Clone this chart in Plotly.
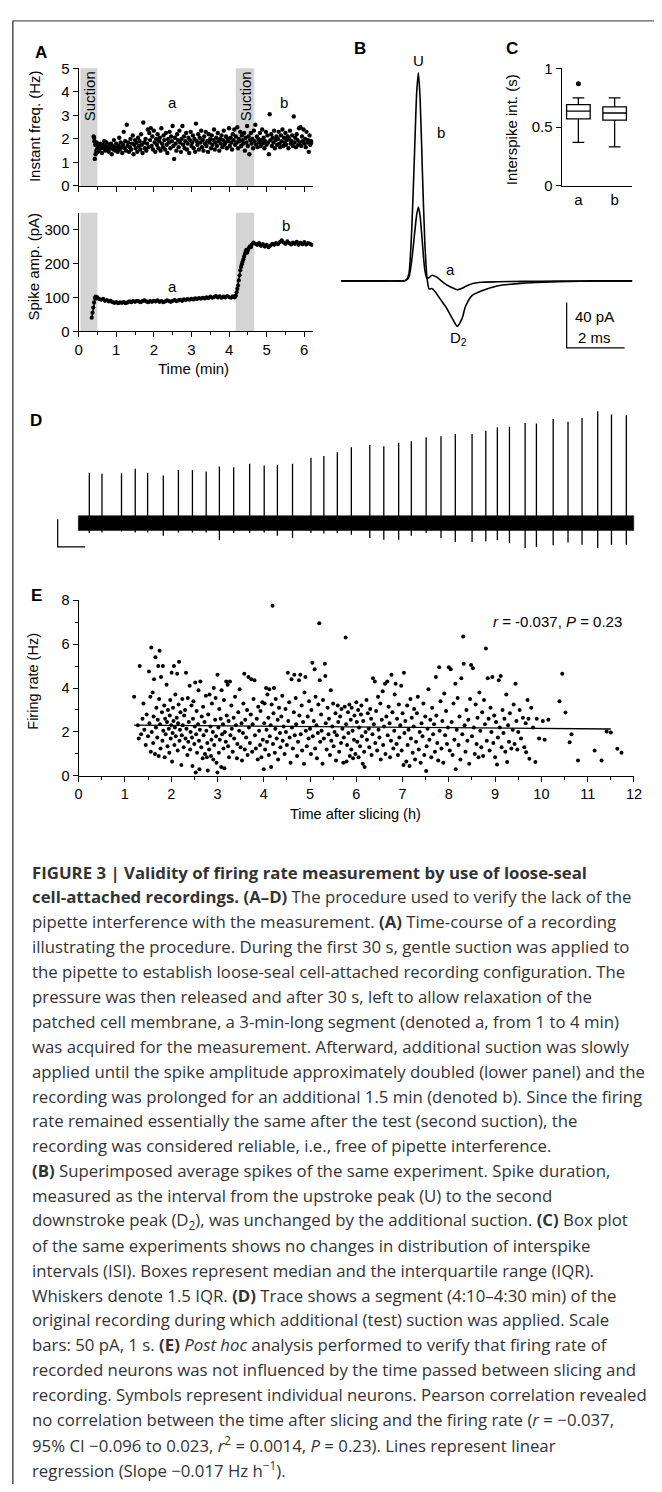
import plotly.graph_objects as go

# ---------------- Panel A (top): instantaneous frequency (min, Hz) ----------------
freq_points = [
(0.40,2.10),(0.41,2.05),(0.42,1.90),(0.43,1.15),(0.44,1.75),(0.45,1.35),(0.47,1.50),(0.48,1.85),(0.50,1.60),(0.52,1.45),
(0.54,1.70),(0.56,1.55),(0.58,1.80),(0.60,1.65),(0.62,1.40),(0.64,1.75),(0.66,1.60),(0.68,1.90),(0.70,1.50),(0.72,1.70),
(0.74,1.85),(0.76,1.55),(0.78,1.65),(0.80,1.45),(0.82,1.75),(0.84,1.60),(0.86,1.80),(0.88,1.35),(0.90,1.70),(0.92,1.55),
(0.94,1.95),(0.96,1.65),(0.98,1.50),(1.00,1.80),(1.02,1.60),(1.04,1.45),(1.06,1.70),(1.08,2.05),(1.10,1.55),(1.12,1.85),
(1.14,1.65),(1.16,1.40),(1.18,1.75),(1.20,2.30),(1.22,1.60),(1.24,1.90),(1.26,1.50),(1.28,2.60),(1.30,1.70),(1.32,1.85),
(1.34,1.45),(1.36,1.65),(1.38,2.00),(1.40,1.55),(1.42,1.80),(1.44,2.15),(1.46,1.35),(1.48,1.75),(1.50,1.95),(1.52,1.60),
(1.54,1.85),(1.56,1.45),(1.58,2.05),(1.60,1.70),(1.62,1.90),(1.64,1.55),(1.66,2.20),(1.68,1.75),(1.70,1.40),(1.72,2.70),
(1.74,1.85),(1.76,1.60),(1.78,2.00),(1.80,1.50),(1.82,1.80),(1.84,2.40),(1.86,1.65),(1.88,2.25),(1.90,1.95),(1.92,2.45),
(1.94,1.70),(1.96,2.10),(1.98,1.55),(2.00,2.35),(2.02,1.85),(2.04,1.45),(2.06,2.00),(2.08,1.75),(2.10,2.20),(2.12,1.60),
(2.14,1.90),(2.16,2.05),(2.18,1.50),(2.20,2.45),(2.22,1.80),(2.24,1.65),(2.26,2.15),(2.28,1.95),(2.30,1.55),(2.32,2.25),
(2.34,1.75),(2.36,1.40),(2.38,2.00),(2.40,1.85),(2.42,2.30),(2.44,1.60),(2.46,2.10),(2.48,1.90),(2.50,2.55),(2.52,1.70),
(2.54,1.15),(2.56,2.05),(2.58,1.80),(2.60,1.50),(2.62,2.20),(2.64,1.95),(2.66,1.65),(2.68,2.35),(2.70,1.85),(2.72,1.45),
(2.74,2.00),(2.76,2.55),(2.78,1.75),(2.80,2.10),(2.82,1.60),(2.84,1.90),(2.86,2.25),(2.88,1.55),(2.90,1.80),(2.92,2.05),
(2.94,1.40),(2.96,1.95),(2.98,2.30),(3.00,1.70),(3.02,1.85),(3.04,2.15),(3.06,1.60),(3.08,2.00),(3.10,1.45),(3.12,2.65),
(3.14,1.90),(3.16,1.75),(3.18,2.20),(3.20,1.55),(3.22,2.05),(3.24,1.85),(3.26,2.35),(3.28,1.65),(3.30,1.95),(3.32,1.50),
(3.34,2.10),(3.36,1.80),(3.38,2.30),(3.40,1.70),(3.42,1.90),(3.44,1.45),(3.46,2.20),(3.48,1.85),(3.50,2.00),(3.52,1.60),
(3.54,2.15),(3.56,1.75),(3.58,1.95),(3.60,2.40),(3.62,1.55),(3.64,1.85),(3.66,2.05),(3.68,1.70),(3.70,2.25),(3.72,1.90),
(3.74,1.50),(3.76,2.00),(3.78,1.80),(3.80,2.15),(3.82,1.65),(3.84,1.95),(3.86,2.35),(3.88,1.75),(3.90,1.85),(3.92,2.10),
(3.94,1.60),(3.96,2.00),(3.98,1.90),(4.00,2.45),(4.02,1.70),(4.04,2.05),(4.06,1.85),(4.08,1.55),(4.10,2.20),(4.12,1.95),
(4.14,2.40),(4.16,1.75),(4.18,2.10),(4.20,1.85),(4.22,2.50),(4.24,1.60),(4.26,2.00),(4.28,1.90),(4.30,2.30),(4.32,1.70),
(4.34,2.15),(4.36,1.95),(4.38,1.80),(4.40,2.25),(4.42,1.50),(4.44,2.05),(4.46,1.85),(4.48,2.55),(4.50,1.70),(4.52,2.10),
(4.54,1.35),(4.56,1.95),(4.58,2.25),(4.60,1.80),(4.62,2.00),(4.64,1.60),(4.66,2.35),(4.68,1.90),(4.70,2.60),(4.72,1.75),
(4.74,2.10),(4.76,1.65),(4.78,2.00),(4.80,1.85),(4.82,2.25),(4.84,1.70),(4.86,1.95),(4.88,2.40),(4.90,1.80),(4.92,2.05),
(4.94,1.60),(4.96,1.90),(4.98,2.30),(5.00,1.75),(5.02,2.15),(5.04,1.85),(5.06,1.35),(5.08,3.05),(5.10,1.95),(5.12,2.20),
(5.14,1.70),(5.16,2.05),(5.18,1.85),(5.20,2.35),(5.22,1.60),(5.24,1.95),(5.26,2.10),(5.28,1.75),(5.30,2.00),(5.32,2.30),
(5.34,1.80),(5.36,1.65),(5.38,2.15),(5.40,1.90),(5.42,2.40),(5.44,1.70),(5.46,2.05),(5.48,1.85),(5.50,2.25),(5.52,1.75),
(5.54,1.95),(5.56,2.10),(5.58,1.60),(5.60,2.00),(5.62,2.35),(5.64,1.80),(5.66,1.90),(5.68,2.15),(5.70,1.70),(5.72,2.95),
(5.74,1.85),(5.76,2.05),(5.78,1.65),(5.80,2.20),(5.82,1.95),(5.84,1.75),(5.86,2.45),(5.88,1.85),(5.90,2.50),(5.92,1.70),
(5.94,2.10),(5.96,1.90),(5.98,2.40),(6.00,1.80),(6.02,2.00),(6.04,1.65),(6.06,2.30),(6.08,1.85),(6.10,1.95),(6.12,1.45),
(6.14,2.15),(6.16,1.75),(6.18,1.90),(6.20,1.85),
]
freq_time_min = [p[0] for p in freq_points]
freq_hz = [p[1] for p in freq_points]
suction_periods_min = [(0.05, 0.50), (4.18, 4.67)]

# ---------------- Panel A (bottom): spike amplitude (min, pA) ----------------
amp_points = [
(0.35,40),(0.37,55),(0.39,70),(0.41,85),(0.43,98),(0.45,102),(0.48,97),(0.50,100),(0.55,95),(0.60,93),
(0.65,96),(0.70,90),(0.75,92),(0.80,88),(0.85,90),(0.90,86),(0.95,84),(1.00,86),(1.05,83),(1.10,85),
(1.15,84),(1.20,86),(1.25,83),(1.30,85),(1.35,88),(1.40,86),(1.45,89),(1.50,87),(1.55,90),(1.60,88),
(1.65,86),(1.70,89),(1.75,91),(1.80,88),(1.85,86),(1.90,89),(1.95,87),(2.00,90),(2.05,88),(2.10,91),
(2.15,87),(2.20,89),(2.25,86),(2.30,88),(2.35,91),(2.40,89),(2.45,87),(2.50,90),(2.55,92),(2.60,89),
(2.65,91),(2.70,93),(2.75,90),(2.80,94),(2.85,92),(2.90,95),(2.95,93),(3.00,96),(3.05,94),(3.10,97),
(3.15,95),(3.20,98),(3.25,96),(3.30,99),(3.35,97),(3.40,100),(3.45,98),(3.50,102),(3.55,99),(3.60,101),
(3.65,104),(3.70,100),(3.75,103),(3.80,99),(3.85,102),(3.90,100),(3.95,104),(4.00,101),(4.05,99),(4.10,103),
(4.15,100),(4.18,105),(4.20,115),(4.22,125),(4.24,135),(4.26,150),(4.28,165),(4.30,180),(4.32,190),(4.34,198),
(4.36,205),(4.38,212),(4.40,220),(4.42,228),(4.44,235),(4.46,240),(4.48,232),(4.50,238),(4.52,245),(4.55,250),
(4.58,248),(4.60,255),(4.65,262),(4.70,258),(4.75,255),(4.80,260),(4.85,252),(4.90,257),(4.95,250),(5.00,255),
(5.05,248),(5.10,253),(5.15,258),(5.20,255),(5.25,260),(5.30,257),(5.35,263),(5.40,268),(5.45,262),(5.50,258),
(5.55,265),(5.60,260),(5.65,256),(5.70,262),(5.75,258),(5.80,264),(5.85,255),(5.90,261),(5.95,257),(6.00,263),
(6.05,256),(6.10,260),(6.15,258),(6.20,255),
]
amp_time_min = [p[0] for p in amp_points]
amp_pA = [p[1] for p in amp_points]

# ---------------- Panel B: average spikes (ms, pA) ----------------
spike_t_ms = [0, 1.0, 2.0, 2.25, 2.35, 2.45, 2.55, 2.62, 2.68, 2.74, 2.82, 2.9, 2.98, 3.05, 3.15, 3.3,
              3.45, 3.63, 3.85, 4.02, 4.19, 4.3, 4.53, 4.87, 5.4, 6.3, 7.5, 9.0, 10.07]
spike_a_pA = [0, 0, 0, 0.5, 3, 18, 42, 58, 65, 57, 33, 10, 2, 3, 4.9, 3.5,
              0.5, -3, -6, -7.8, -6.5, -5, -2.5, -1.2, -0.8, -0.4, -0.2, 0, 0]
spike_b_pA = [0, 0, 0, 0.5, 6, 45, 115, 165, 183, 160, 95, 35, 2, -7, -6.7, -11,
              -16.5, -23, -33, -40, -33, -23, -13, -8.7, -4.5, -2, -0.8, 0, 0]
b_scale_pA = 40
b_scale_ms = 2

# ---------------- Panel C: interspike interval box plot (s) ----------------
box_cats = ["a", "b"]
box_lower = [0.370, 0.333]
box_q1 = [0.571, 0.560]
box_median = [0.636, 0.620]
box_q3 = [0.692, 0.672]
box_upper = [0.748, 0.748]
box_outlier_a = [0.868]

# ---------------- Panel D: raw trace segment (s, pA) ----------------
d_spike_t_s = [0.40, 0.86, 1.57, 2.07, 2.52, 3.09, 3.64, 4.15, 4.65, 5.13, 5.65, 6.23, 6.76, 7.24, 7.79,
               8.46, 8.93, 9.42, 9.93, 10.60, 11.11, 11.65, 12.11, 12.65, 13.19, 13.71, 14.32, 14.82,
               15.24, 15.68, 16.25, 16.66, 17.27, 17.81, 18.32, 18.89, 19.39, 19.93]
d_spike_top_pA = [91, 89, 90, 98, 91, 86, 96, 96, 93, 102, 101, 107, 104, 105, 107, 118, 121, 128, 137,
                  141, 139, 145, 148, 155, 157, 161, 161, 167, 173, 174, 181, 180, 188, 183, 190, 202, 196, 195]
d_spike_bottom_pA = [-18, -17, -15, -17, -17, -23, -17, -17, -17, -31, -18, -18, -17, -23, -27, -18, -19,
                     -18, -21, -27, -30, -30, -23, -18, -27, -34, -34, -33, -31, -36, -45, -43, -40, -35,
                     -39, -45, -39, -39]
d_trace_duration_s = 20.2
d_noise_halfwidth_pA = 13.4
d_scale_pA = 50
d_scale_s = 1

# ---------------- Panel E: firing rate vs time after slicing (h, Hz) ----------------
e_points = [
(1.20,3.60),(1.28,2.30),(1.30,1.70),(1.32,5.00),(1.35,1.90),(1.38,2.60),(1.40,3.30),(1.42,2.10),(1.45,1.40),(1.47,2.80),
(1.50,1.80),(1.52,4.75),(1.53,2.40),(1.55,3.60),(1.56,1.10),(1.57,5.85),(1.58,2.00),(1.60,3.80),(1.61,1.50),(1.62,2.70),
(1.63,4.40),(1.65,1.00),(1.66,5.40),(1.67,2.20),(1.68,3.10),(1.70,1.75),(1.71,2.55),(1.72,5.00),(1.73,0.90),(1.74,3.50),
(1.75,5.70),(1.76,2.35),(1.77,1.25),(1.78,4.50),(1.80,2.90),(1.81,1.60),(1.82,5.00),(1.83,2.05),(1.85,3.20),(1.86,0.85),
(1.87,2.60),(1.88,1.90),(1.90,4.15),(1.91,2.45),(1.92,1.35),(1.93,3.00),(1.95,2.15),(1.96,1.05),(1.97,2.75),(1.98,3.45),
(1.99,1.70),(2.00,2.30),
(2.01,4.70),(2.02,0.65),(2.03,1.95),(2.04,3.10),(2.05,2.50),(2.06,5.00),(2.07,1.40),(2.08,2.20),(2.09,3.70),(2.10,1.80),
(2.12,2.65),(2.13,4.65),(2.14,1.15),(2.15,2.40),(2.16,3.25),(2.17,5.20),(2.18,1.60),(2.19,2.10),(2.20,2.90),(2.22,0.50),
(2.23,1.85),(2.24,3.50),(2.25,2.30),(2.27,1.30),(2.28,2.75),(2.30,3.00),(2.31,1.70),(2.32,4.70),(2.33,2.15),(2.35,0.95),
(2.36,3.55),(2.37,1.55),(2.38,2.45),(2.40,4.10),(2.41,1.20),(2.42,2.00),(2.44,3.20),(2.45,1.75),(2.46,0.45),(2.47,2.60),
(2.48,3.40),(2.50,1.45),(2.51,2.25),(2.52,4.25),(2.53,0.15),(2.54,1.90),(2.55,2.95),(2.56,1.05),(2.58,2.35),(2.59,3.90),
(2.60,1.60),(2.61,0.30),(2.62,2.10),(2.63,4.30),(2.65,1.30),(2.66,2.70),(2.68,0.80),(2.69,3.15),(2.70,1.85),(2.72,2.45),
(2.73,1.00),(2.75,3.65),(2.76,2.05),(2.77,0.85),(2.78,1.50),(2.79,0.25),(2.80,2.80),(2.82,1.20),(2.83,3.70),(2.85,2.25),
(2.86,0.90),(2.87,1.65),(2.88,3.30),(2.90,2.00),(2.91,0.75),(2.92,4.00),(2.93,1.40),(2.95,2.55),(2.96,3.55),(2.97,1.80),
(2.98,0.60),(3.00,0.15),(3.00,4.60),
(3.02,2.20),(3.03,1.05),(3.04,3.05),(3.05,1.65),(3.07,2.60),(3.08,0.40),(3.09,3.90),(3.10,1.90),(3.12,2.35),(3.13,1.25),
(3.14,3.45),(3.15,0.35),(3.16,2.00),(3.18,1.55),(3.19,4.30),(3.20,2.75),(3.22,4.15),(3.23,1.35),(3.24,2.50),(3.25,0.85),
(3.27,4.30),(3.28,1.85),(3.30,3.20),(3.31,2.15),(3.33,1.10),(3.35,2.65),(3.36,1.70),(3.38,3.60),(3.40,2.30),(3.42,0.80),
(3.43,1.45),(3.45,2.90),(3.47,2.05),(3.48,3.95),(3.50,1.30),(3.52,2.40),(3.53,0.70),(3.55,1.95),(3.56,3.30),(3.58,4.65),
(3.59,1.20),(3.60,2.55),(3.62,1.75),(3.64,3.00),(3.65,0.95),(3.67,4.50),(3.68,2.20),(3.70,1.50),(3.72,2.80),(3.73,4.40),
(3.75,1.10),(3.76,2.35),(3.78,3.50),(3.80,4.35),(3.81,1.85),(3.83,1.25),(3.85,2.60),(3.87,0.75),(3.88,3.15),(3.90,2.05),
(3.92,1.40),(3.93,2.95),(3.95,0.85),(3.97,3.35),(3.98,1.65),(4.00,0.30),
(4.01,2.40),(4.02,3.30),(4.03,1.20),(4.05,4.00),(4.06,2.10),(4.07,1.55),(4.08,3.70),(4.10,2.65),(4.11,0.95),(4.12,3.95),
(4.13,1.80),(4.15,2.30),(4.16,0.40),(4.17,3.25),(4.19,7.75),(4.20,1.45),(4.21,2.85),(4.22,4.00),(4.24,1.05),(4.25,2.15),
(4.26,3.50),(4.28,1.70),(4.30,2.55),(4.31,0.75),(4.33,3.10),(4.35,1.95),(4.36,1.30),(4.38,2.70),(4.40,3.65),(4.41,1.60),
(4.43,2.25),(4.45,1.00),(4.47,3.05),(4.48,2.00),(4.50,1.40),(4.52,4.70),(4.53,2.50),(4.55,3.35),(4.56,1.75),(4.58,0.60),
(4.60,4.40),(4.61,2.20),(4.63,1.25),(4.65,2.90),(4.66,4.60),(4.67,1.85),(4.69,3.55),(4.70,2.35),(4.72,0.90),(4.74,1.55),
(4.76,4.35),(4.77,2.75),(4.79,4.60),(4.80,1.90),(4.82,3.20),(4.83,1.15),(4.85,2.45),(4.87,0.55),(4.88,3.80),(4.90,4.50),
(4.91,2.05),(4.93,1.35),(4.95,2.70),(4.97,1.70),(4.98,3.40),
(5.00,2.15),(5.02,1.00),(5.03,3.00),(5.05,5.15),(5.06,1.80),(5.08,2.50),(5.10,4.85),(5.11,1.25),(5.12,3.60),(5.14,2.30),
(5.15,0.80),(5.17,1.95),(5.18,3.25),(5.20,6.95),(5.21,4.35),(5.22,1.55),(5.24,2.80),(5.25,2.05),(5.27,0.55),(5.28,3.45),
(5.30,1.70),(5.32,5.10),(5.33,4.55),(5.34,2.40),(5.36,1.20),(5.38,3.10),(5.40,1.90),(5.41,2.60),(5.43,0.95),(5.45,3.90),
(5.46,1.60),(5.48,2.25),(5.50,3.30),(5.51,1.35),(5.53,2.00),(5.55,2.85),(5.56,0.70),(5.58,1.85),(5.60,3.20),(5.61,2.45),
(5.63,1.10),(5.65,2.70),(5.67,1.50),(5.68,3.05),(5.70,2.15),(5.72,0.60),(5.73,1.75),(5.75,3.15),(5.77,6.30),(5.78,2.35),
(5.79,0.65),(5.80,1.40),(5.82,2.90),(5.83,1.95),(5.85,3.25),(5.86,0.90),(5.88,2.55),(5.89,1.20),(5.90,3.10),(5.92,2.05),
(5.93,0.80),(5.95,1.65),(5.96,2.75),(5.98,1.00),(6.00,3.35),
(6.01,2.45),(6.02,1.55),(6.04,3.00),(6.05,0.85),(6.06,2.20),(6.08,1.35),(6.10,2.80),(6.11,3.20),(6.12,1.80),(6.14,0.55),
(6.15,2.50),(6.17,1.10),(6.18,0.40),(6.20,2.00),(6.22,3.45),(6.23,1.65),(6.25,2.85),(6.27,2.15),(6.28,1.30),(6.30,3.05),
(6.32,2.60),(6.33,0.95),(6.35,1.90),(6.36,4.45),(6.38,2.35),(6.40,4.30),(6.41,1.50),(6.43,2.95),(6.45,1.15),(6.47,3.60),
(6.48,2.10),(6.50,1.75),(6.52,3.30),(6.53,0.75),(6.55,2.55),(6.57,3.85),(6.58,1.40),(6.60,2.25),(6.62,4.20),(6.63,1.00),
(6.65,2.70),(6.67,4.30),(6.68,1.85),(6.70,3.15),(6.72,2.40),(6.73,0.85),(6.75,1.60),(6.76,4.60),(6.78,2.90),(6.80,1.25),
(6.82,2.05),(6.83,3.70),(6.85,4.20),(6.87,1.45),(6.88,2.60),(6.90,0.95),(6.92,3.25),(6.93,1.75),(6.95,2.30),(6.97,4.10),
(6.98,1.15),(7.00,2.85),
(7.02,0.50),(7.03,4.70),(7.04,1.95),(7.06,2.50),(7.08,0.65),(7.10,3.20),(7.11,1.40),(7.13,2.10),(7.15,0.45),(7.17,3.50),
(7.18,1.70),(7.20,2.65),(7.22,1.05),(7.24,2.25),(7.25,3.05),(7.27,0.75),(7.29,1.55),(7.31,2.85),(7.33,3.60),(7.35,1.20),
(7.37,2.00),(7.39,0.60),(7.41,2.40),(7.43,1.80),(7.45,3.30),(7.47,0.95),(7.49,2.70),(7.51,0.22),(7.52,1.35),(7.54,2.15),
(7.56,3.95),(7.58,1.65),(7.60,2.55),(7.62,0.85),(7.64,3.10),(7.66,1.90),(7.68,2.35),(7.70,1.10),(7.72,4.50),(7.73,2.75),
(7.75,1.50),(7.77,0.70),(7.79,4.95),(7.80,2.05),(7.82,3.40),(7.84,1.25),(7.86,2.50),(7.88,0.60),(7.90,3.75),(7.92,1.85),
(7.94,2.95),(7.96,1.45),(7.98,2.20),
(8.00,4.95),(8.02,1.15),(8.04,4.85),(8.06,2.45),(8.08,0.95),(8.10,3.30),(8.12,1.65),(8.14,4.20),(8.15,0.30),(8.17,2.10),
(8.19,3.55),(8.21,1.40),(8.23,2.70),(8.25,0.75),(8.27,4.45),(8.29,1.90),(8.31,6.35),(8.32,5.10),(8.34,2.30),(8.36,1.10),
(8.38,3.00),(8.40,1.60),(8.42,2.55),(8.44,0.55),(8.46,3.50),(8.48,5.05),(8.50,1.80),(8.52,4.90),(8.54,2.20),(8.56,1.00),
(8.58,3.25),(8.60,1.45),(8.62,2.65),(8.64,0.85),(8.66,3.80),(8.68,2.05),(8.70,1.30),(8.72,2.90),(8.74,0.90),(8.76,3.45),
(8.78,2.35),(8.80,5.80),(8.82,1.60),(8.84,4.45),(8.86,2.60),(8.88,1.15),(8.90,3.10),(8.92,2.00),(8.94,4.50),(8.96,1.50),
(8.98,2.75),
(9.00,0.85),(9.02,2.45),(9.04,0.52),(9.06,1.75),(9.08,4.35),(9.10,2.20),(9.12,4.55),(9.14,1.30),(9.16,3.00),(9.18,1.95),
(9.20,2.60),(9.22,1.10),(9.24,3.70),(9.26,0.63),(9.28,2.30),(9.30,1.55),(9.32,2.85),(9.35,1.25),(9.38,2.10),(9.40,3.25),
(9.42,1.45),(9.44,4.20),(9.46,2.50),(9.48,1.20),(9.50,2.00),(9.53,3.00),(9.56,1.70),(9.60,2.65),(9.63,1.30),(9.66,2.40),
(9.67,1.08),(9.70,3.45),(9.72,2.60),(9.74,0.78),(9.78,3.10),(9.82,2.20),(9.87,0.63),(9.90,2.60),(9.95,1.70),
(10.03,2.50),(10.07,1.65),(10.15,2.55),(10.39,3.40),(10.45,4.65),(10.52,2.88),(10.61,1.53),(10.65,1.90),(10.79,0.70),
(11.15,1.15),(11.30,0.70),(11.41,2.02),(11.50,1.98),(11.64,1.23),(11.73,1.05),
]
e_time_h = [p[0] for p in e_points]
e_rate_hz = [p[1] for p in e_points]
reg_slope = -0.017
reg_intercept = 2.33
reg_x_range = [1.2, 11.5]

caption_lines = [
    "<b>FIGURE 3 | Validity of firing rate measurement by use of loose-seal</b>",
    "<b>cell-attached recordings. (A–D)</b> The procedure used to verify the lack of the",
    "pipette interference with the measurement. <b>(A)</b> Time-course of a recording",
    "illustrating the procedure. During the first 30 s, gentle suction was applied to",
    "the pipette to establish loose-seal cell-attached recording configuration. The",
    "pressure was then released and after 30 s, left to allow relaxation of the",
    "patched cell membrane, a 3-min-long segment (denoted a, from 1 to 4 min)",
    "was acquired for the measurement. Afterward, additional suction was slowly",
    "applied until the spike amplitude approximately doubled (lower panel) and the",
    "recording was prolonged for an additional 1.5 min (denoted b). Since the firing",
    "rate remained essentially the same after the test (second suction), the",
    "recording was considered reliable, i.e., free of pipette interference.",
    "<b>(B)</b> Superimposed average spikes of the same experiment. Spike duration,",
    "measured as the interval from the upstroke peak (U) to the second",
    "downstroke peak (D<sub>2</sub>), was unchanged by the additional suction. <b>(C)</b> Box plot",
    "of the same experiments shows no changes in distribution of interspike",
    "intervals (ISI). Boxes represent median and the interquartile range (IQR).",
    "Whiskers denote 1.5 IQR. <b>(D)</b> Trace shows a segment (4:10–4:30 min) of the",
    "original recording during which additional (test) suction was applied. Scale",
    "bars: 50 pA, 1 s. <b>(E)</b> <i>Post hoc</i> analysis performed to verify that firing rate of",
    "recorded neurons was not influenced by the time passed between slicing and",
    "recording. Symbols represent individual neurons. Pearson correlation revealed",
    "no correlation between the time after slicing and the firing rate (<i>r</i> = −0.037,",
    "95% CI −0.096 to 0.023, <i>r</i><sup>2</sup> = 0.0014, <i>P</i> = 0.23). Lines represent linear",
    "regression (Slope −0.017 Hz h<sup>−1</sup>).",
]

# =====================================================================
W, H = 662, 1492
FONT = "Liberation Sans"
CAP_FONT = "Open Sans"


def px(x):
    return x / W


def py(y):
    return 1 - y / H


fig = go.Figure()
K = "black"

# A top
fig.add_trace(go.Scatter(x=freq_time_min, y=freq_hz, mode="markers", xaxis="x", yaxis="y",
                         marker=dict(size=4.4, color=K), showlegend=False, hoverinfo="skip"))
# A bottom
fig.add_trace(go.Scatter(x=amp_time_min, y=amp_pA, mode="lines+markers", xaxis="x2", yaxis="y2",
                         line=dict(color=K, width=1.5), marker=dict(size=4.2, color=K),
                         showlegend=False, hoverinfo="skip"))
# B traces
for ys in (spike_a_pA, spike_b_pA):
    fig.add_trace(go.Scatter(x=spike_t_ms, y=ys, mode="lines", xaxis="x3", yaxis="y3",
                             line=dict(color=K, width=1.6, shape="spline", smoothing=0.6),
                             showlegend=False, hoverinfo="skip"))
# B scale bar
sb_x0 = 7.8
sb_y0 = -19
fig.add_trace(go.Scatter(x=[sb_x0, sb_x0, sb_x0 + b_scale_ms], y=[sb_y0, sb_y0 - b_scale_pA, sb_y0 - b_scale_pA],
                         mode="lines", xaxis="x3", yaxis="y3", line=dict(color=K, width=1.2),
                         showlegend=False, hoverinfo="skip"))
# C boxes
fig.add_trace(go.Box(x=[1, 2], q1=box_q1, median=box_median, q3=box_q3, lowerfence=box_lower,
                     upperfence=box_upper, xaxis="x4", yaxis="y4", fillcolor="white",
                     line=dict(color=K, width=1.3), width=0.65, whiskerwidth=0.5,
                     boxpoints=False, showlegend=False, hoverinfo="skip"))
fig.add_trace(go.Scatter(x=[1] * len(box_outlier_a), y=box_outlier_a, mode="markers", xaxis="x4", yaxis="y4",
                         marker=dict(size=5, color=K), showlegend=False, hoverinfo="skip"))
# D band
h = d_noise_halfwidth_pA
fig.add_trace(go.Scatter(x=[0, d_trace_duration_s, d_trace_duration_s, 0, 0], y=[-h, -h, h, h, -h],
                         mode="lines", fill="toself", fillcolor=K, line=dict(color=K, width=0.5),
                         xaxis="x5", yaxis="y5", showlegend=False, hoverinfo="skip"))
sx, sy = [], []
for t, top, bot in zip(d_spike_t_s, d_spike_top_pA, d_spike_bottom_pA):
    sx += [t, t, None]
    sy += [bot, top, None]
fig.add_trace(go.Scatter(x=sx, y=sy, mode="lines", xaxis="x5", yaxis="y5", line=dict(color=K, width=1.3),
                         showlegend=False, hoverinfo="skip", connectgaps=False))
dsx0, dsy0 = -0.75, 7.1
fig.add_trace(go.Scatter(x=[dsx0, dsx0, dsx0 + d_scale_s], y=[dsy0, dsy0 - d_scale_pA, dsy0 - d_scale_pA],
                         mode="lines", xaxis="x5", yaxis="y5", line=dict(color=K, width=1.2),
                         showlegend=False, hoverinfo="skip"))
# E
fig.add_trace(go.Scatter(x=e_time_h, y=e_rate_hz, mode="markers", xaxis="x6", yaxis="y6",
                         marker=dict(size=4, color=K), showlegend=False, hoverinfo="skip"))
fig.add_trace(go.Scatter(x=reg_x_range, y=[reg_intercept + reg_slope * v for v in reg_x_range], mode="lines",
                         xaxis="x6", yaxis="y6", line=dict(color=K, width=1.3), showlegend=False, hoverinfo="skip"))

tickfontA = dict(family=FONT, size=15, color=K)
tickfontE = dict(family=FONT, size=14.5, color=K)
common = dict(showgrid=False, zeroline=False, showline=True, linecolor=K, linewidth=1.2,
              ticks="outside", ticklen=5, tickwidth=1.2, tickcolor=K)
minor_x = dict(dtick=0.5, ticklen=3, tickcolor=K, ticks="outside")

fig.update_layout(
    width=W, height=H, margin=dict(l=0, r=0, t=0, b=0),
    paper_bgcolor="white", plot_bgcolor="rgba(0,0,0,0)",
    font=dict(family=FONT, color=K),
    xaxis=dict(domain=[px(76), px(315)], range=[0, 6.24], anchor="y", tickvals=[0, 1, 2, 3, 4, 5, 6],
               showticklabels=False, minor=minor_x, tickfont=tickfontA, **common),
    yaxis=dict(domain=[py(179), py(60)], range=[0, 5], anchor="x", tickvals=[0, 1, 2, 3, 4, 5],
               tickfont=tickfontA, **common),
    xaxis2=dict(domain=[px(76), px(315)], range=[0, 6.24], anchor="y2", tickvals=[0, 1, 2, 3, 4, 5, 6],
                minor=minor_x, tickfont=tickfontA, **common),
    yaxis2=dict(domain=[py(326), py(206)], range=[0, 350], anchor="x2", tickvals=[0, 100, 200, 300],
                tickfont=tickfontA, **common),
    xaxis3=dict(domain=[px(343), px(640)], range=[0, 10.07], anchor="y3", visible=False),
    yaxis3=dict(domain=[py(350), py(50)], range=[-65.2, 195.7], anchor="x3", visible=False),
    xaxis4=dict(domain=[px(568), px(640)], range=[0.54, 2.49], anchor="y4", tickvals=[1, 2], ticktext=box_cats,
                tickfont=tickfontA, **{**common, "ticks": "", "ticklen": 0}),
    yaxis4=dict(domain=[py(179), py(60)], range=[0, 1], anchor="x4", tickvals=[0, 0.5, 1],
                ticktext=["0", "0.5", "1"], tickfont=tickfontA, **common),
    xaxis5=dict(domain=[px(40), px(645)], range=[-1.275, 20.33], anchor="y5", visible=False),
    yaxis5=dict(domain=[py(560), py(400)], range=[-71.4, 214.3], anchor="x5", visible=False),
    xaxis6=dict(domain=[px(76), px(641.6)], range=[0, 12], anchor="y6", dtick=1,
                minor=minor_x, tickfont=tickfontE, **common),
    yaxis6=dict(domain=[py(775.7), py(598)], range=[0, 8], anchor="x6", tickvals=[0, 2, 4, 6, 8],
                minor=dict(dtick=1, ticklen=3, tickcolor=K, ticks="outside"), tickfont=tickfontE, **common),
)

shapes = []
for (a0, a1) in suction_periods_min:
    for xr, yr in (("x", "y domain"), ("x2", "y2 domain")):
        shapes.append(dict(type="rect", xref=xr, yref=yr, x0=a0, x1=a1, y0=0, y1=1,
                           fillcolor="#d4d4d4", line=dict(width=0), layer="below"))
# frame lines
shapes.append(dict(type="line", xref="paper", yref="paper", x0=px(9), x1=1, y0=py(12), y1=py(12),
                   line=dict(color="#8a8a8a", width=1.6)))
shapes.append(dict(type="line", xref="paper", yref="paper", x0=px(9), x1=px(9), y0=py(12), y1=0,
                   line=dict(color="#222222", width=1.2)))
fig.update_layout(shapes=shapes)

anns = []


def ann(text, x, y, size=15, xanchor="center", yanchor="middle", angle=0, color=K, family=FONT):
    anns.append(dict(text=text, x=px(x), y=py(y), xref="paper", yref="paper", showarrow=False,
                     xanchor=xanchor, yanchor=yanchor, textangle=angle,
                     font=dict(family=family, size=size, color=color)))


# panel letters
for letter, (lx, ly) in {"A": (38, 44), "B": (363, 40), "C": (517, 40), "D": (33, 416), "E": (33, 593)}.items():
    ann("<b>%s</b>" % letter, lx, ly, size=17)

# Panel A texts
for (a0, a1) in suction_periods_min:
    anns.append(dict(text="Suction", x=(a0 + a1) / 2, y=1, xref="x", yref="y domain", showarrow=False,
                     xanchor="center", yanchor="top", textangle=-90, yshift=-1,
                     font=dict(family=FONT, size=15, color=K)))
ann("a", 172, 95)
ann("b", 285, 95)
ann("a", 172, 281)
ann("b", 287, 219)
ann("Instant freq. (Hz)", 31, 118, angle=-90)
ann("Spike amp. (pA)", 30, 260, angle=-90)
ann("Time (min)", 193, 364)

# Panel B texts
ann("U", 422, 52)
ann("b", 445, 125)
ann("a", 455, 263)
ann("D<sub>2</sub>", 463, 333)
ann("40 pA", 601, 311)
ann("2 ms", 601, 332)

# Panel C
ann("Interspike int. (s)", 517, 122, angle=-90)

# Panel E
ann("Firing rate (Hz)", 30, 680, size=14.5, angle=-90)
ann("Time after slicing (h)", 358, 814, size=14.5)
ann("<i>r</i> = -0.037, <i>P</i> = 0.23", 631, 620, size=15, xanchor="right")

# caption
for i, line in enumerate(caption_lines):
    ann(line, 26, 873 + 25.17 * i, size=16.8, xanchor="left", color="#333333", family=CAP_FONT)

fig.update_layout(annotations=anns)
fig.write_html("out.html", config={"displayModeBar": False},
               post_script="document.body.style.margin='0px';document.body.style.overflow='hidden';")
